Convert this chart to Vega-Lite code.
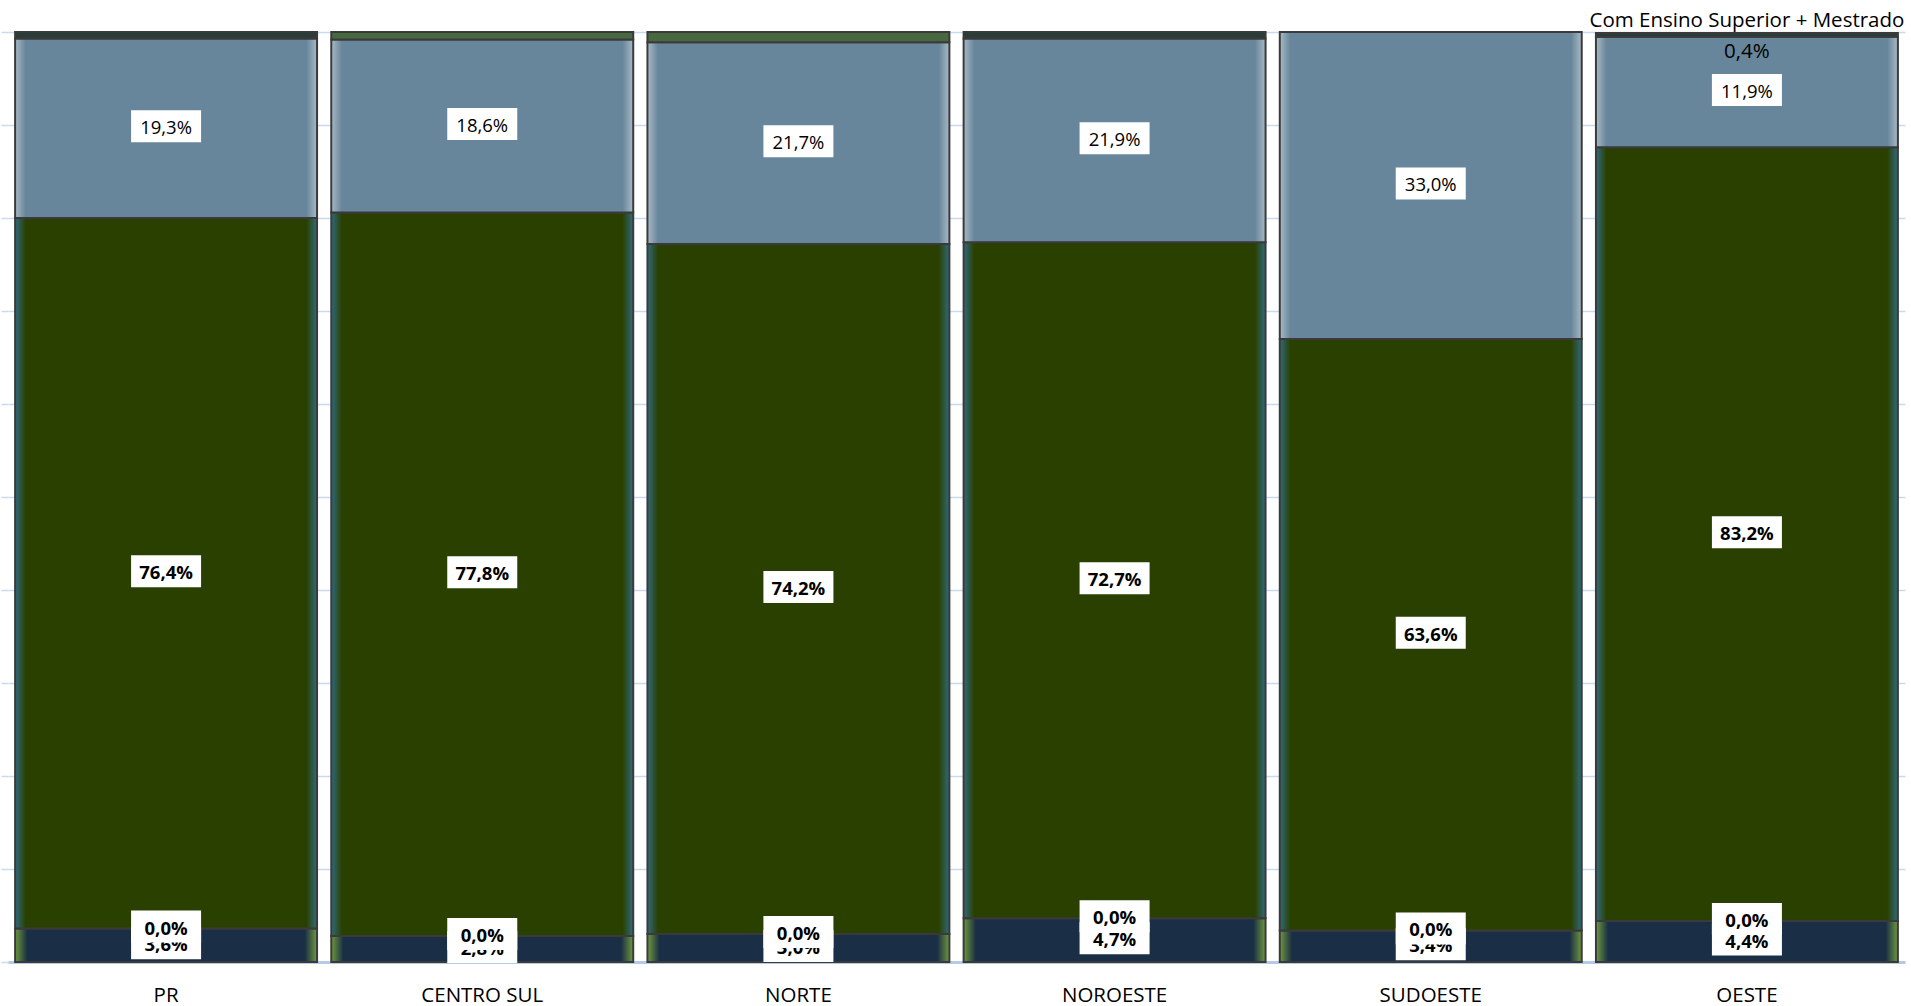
{
  "$schema": "https://vega.github.io/schema/vega-lite/v6.json",
  "autosize": {"type": "none"},
  "width": 1897,
  "height": 930,
  "padding": {"left": 8, "top": 32, "right": 6, "bottom": 44},
  "background": "white",
  "config": {"view": {"stroke": null}, "font": "Open Sans"},
  "data": {"values": [
    {"region": "PR", "serie": "Até Ensino Fundamental", "ord": 1, "value": 3.6, "label": "3,6%"},
    {"region": "PR", "serie": "Sem Instrução", "ord": 2, "value": 0.0, "label": "0,0%"},
    {"region": "PR", "serie": "Ensino Médio", "ord": 3, "value": 76.4, "label": "76,4%"},
    {"region": "PR", "serie": "Com Ensino Superior", "ord": 4, "value": 19.3, "label": "19,3%"},
    {"region": "PR", "serie": "Com Ensino Superior + Mestrado", "ord": 5, "value": 0.7, "label": "0,7%"},
    {"region": "CENTRO SUL", "serie": "Até Ensino Fundamental", "ord": 1, "value": 2.8, "label": "2,8%"},
    {"region": "CENTRO SUL", "serie": "Sem Instrução", "ord": 2, "value": 0.0, "label": "0,0%"},
    {"region": "CENTRO SUL", "serie": "Ensino Médio", "ord": 3, "value": 77.8, "label": "77,8%"},
    {"region": "CENTRO SUL", "serie": "Com Ensino Superior", "ord": 4, "value": 18.6, "label": "18,6%"},
    {"region": "CENTRO SUL", "serie": "Com Ensino Superior + Doutorado", "ord": 6, "value": 0.8, "label": "0,8%"},
    {"region": "NORTE", "serie": "Até Ensino Fundamental", "ord": 1, "value": 3.0, "label": "3,0%"},
    {"region": "NORTE", "serie": "Sem Instrução", "ord": 2, "value": 0.0, "label": "0,0%"},
    {"region": "NORTE", "serie": "Ensino Médio", "ord": 3, "value": 74.2, "label": "74,2%"},
    {"region": "NORTE", "serie": "Com Ensino Superior", "ord": 4, "value": 21.7, "label": "21,7%"},
    {"region": "NORTE", "serie": "Com Ensino Superior + Doutorado", "ord": 6, "value": 1.1, "label": "1,1%"},
    {"region": "NOROESTE", "serie": "Até Ensino Fundamental", "ord": 1, "value": 4.7, "label": "4,7%"},
    {"region": "NOROESTE", "serie": "Sem Instrução", "ord": 2, "value": 0.0, "label": "0,0%"},
    {"region": "NOROESTE", "serie": "Ensino Médio", "ord": 3, "value": 72.7, "label": "72,7%"},
    {"region": "NOROESTE", "serie": "Com Ensino Superior", "ord": 4, "value": 21.9, "label": "21,9%"},
    {"region": "NOROESTE", "serie": "Com Ensino Superior + Mestrado", "ord": 5, "value": 0.7, "label": "0,7%"},
    {"region": "SUDOESTE", "serie": "Até Ensino Fundamental", "ord": 1, "value": 3.4, "label": "3,4%"},
    {"region": "SUDOESTE", "serie": "Sem Instrução", "ord": 2, "value": 0.0, "label": "0,0%"},
    {"region": "SUDOESTE", "serie": "Ensino Médio", "ord": 3, "value": 63.6, "label": "63,6%"},
    {"region": "SUDOESTE", "serie": "Com Ensino Superior", "ord": 4, "value": 33.0, "label": "33,0%"},
    {"region": "SUDOESTE", "serie": "Com Ensino Superior + Mestrado", "ord": 5, "value": 0.0, "label": "0,0%"},
    {"region": "OESTE", "serie": "Até Ensino Fundamental", "ord": 1, "value": 4.4, "label": "4,4%"},
    {"region": "OESTE", "serie": "Sem Instrução", "ord": 2, "value": 0.0, "label": "0,0%"},
    {"region": "OESTE", "serie": "Ensino Médio", "ord": 3, "value": 83.2, "label": "83,2%"},
    {"region": "OESTE", "serie": "Com Ensino Superior", "ord": 4, "value": 11.9, "label": "11,9%"},
    {"region": "OESTE", "serie": "Com Ensino Superior + Mestrado", "ord": 5, "value": 0.4, "label": "Com Ensino Superior + Mestrado\n0,4%"}
  ]},
  "transform": [
    {"stack": "value", "groupby": ["region"], "sort": [{"field": "ord", "order": "ascending"}], "as": ["v0", "v1"]}
  ],
  "encoding": {
    "x": {
      "field": "region", "type": "nominal",
      "sort": ["PR", "CENTRO SUL", "NORTE", "NOROESTE", "SUDOESTE", "OESTE"],
      "scale": {"paddingInner": 0.045, "paddingOuter": 0.0225},
      "axis": {"title": null, "labelAngle": 0, "labelFont": "Open Sans", "labelFontSize": 20.5, "labelColor": "#000000",
               "ticks": false, "tickSize": 0, "labelPadding": 33, "labelBaseline": "middle",
               "domainColor": "#b6cae6", "domainWidth": 3, "grid": false}
    }
  },
  "layer": [
    {
      "transform": [{"filter": "datum.ord == 1"}],
      "mark": {"type": "bar", "stroke": "#3a3a3a", "strokeWidth": 2,
               "fill": {"gradient": "linear", "x1": 0, "x2": 1, "y1": 0, "y2": 0,
                        "stops": [{"offset": 0, "color": "#6f9a3c"}, {"offset": 0.04, "color": "#1a2f45"}, {"offset": 0.96, "color": "#1a2f45"}, {"offset": 1, "color": "#6f9a3c"}]}},
      "encoding": {
        "y": {"field": "v0", "type": "quantitative", "scale": {"domain": [0, 100], "nice": false},
              "axis": {"title": null, "labels": false, "domain": false, "values": [0, 10, 20, 30, 40, 50, 60, 70, 80, 90, 100],
                       "grid": true, "gridColor": "#c9daf0", "gridWidth": 1.5, "ticks": true, "tickSize": 7, "tickColor": "#c9daf0", "tickWidth": 1.5}},
        "y2": {"field": "v1"}
      }
    },
    {
      "transform": [{"filter": "datum.ord == 3"}],
      "mark": {"type": "bar", "stroke": "#3a3a3a", "strokeWidth": 2,
               "fill": {"gradient": "linear", "x1": 0, "x2": 1, "y1": 0, "y2": 0,
                        "stops": [{"offset": 0, "color": "#2f6b80"}, {"offset": 0.035, "color": "#2a4000"}, {"offset": 0.965, "color": "#2a4000"}, {"offset": 1, "color": "#2f6b80"}]}},
      "encoding": {"y": {"field": "v0", "type": "quantitative"}, "y2": {"field": "v1"}}
    },
    {
      "transform": [{"filter": "datum.ord == 4"}],
      "mark": {"type": "bar", "stroke": "#3a3a3a", "strokeWidth": 2,
               "fill": {"gradient": "linear", "x1": 0, "x2": 1, "y1": 0, "y2": 0,
                        "stops": [{"offset": 0, "color": "#a9bac6"}, {"offset": 0.035, "color": "#67869b"}, {"offset": 0.965, "color": "#67869b"}, {"offset": 1, "color": "#a9bac6"}]}},
      "encoding": {"y": {"field": "v0", "type": "quantitative"}, "y2": {"field": "v1"}}
    },
    {
      "transform": [{"filter": "datum.ord == 5 && datum.value > 0"}],
      "mark": {"type": "bar", "stroke": "#3a3a3a", "strokeWidth": 2, "fill": "#2a3c38"},
      "encoding": {"y": {"field": "v0", "type": "quantitative"}, "y2": {"field": "v1"}}
    },
    {
      "transform": [{"filter": "datum.ord == 6"}],
      "mark": {"type": "bar", "stroke": "#3a3a3a", "strokeWidth": 2, "fill": "#48693f"},
      "encoding": {"y": {"field": "v0", "type": "quantitative"}, "y2": {"field": "v1"}}
    },
    {
      "mark": {"type": "point", "shape": "M-1,-0.457L1,-0.457L1,0.457L-1,0.457Z", "size": 4900, "filled": true, "fill": "#ffffff", "strokeWidth": 0, "yOffset": -2},
      "encoding": {
        "y": {"field": "value", "type": "quantitative", "stack": "zero", "bandPosition": 0.5},
        "order": {"field": "ord", "type": "quantitative"},
        "opacity": {"condition": {"test": "datum.ord == 1", "value": 1}, "value": 0}
      }
    },
    {
      "mark": {"type": "text", "font": "Open Sans", "fontSize": 18.5, "fontWeight": "bold", "color": "#000000", "baseline": "middle"},
      "encoding": {
        "y": {"field": "value", "type": "quantitative", "stack": "zero", "bandPosition": 0.5},
        "order": {"field": "ord", "type": "quantitative"},
        "text": {"condition": {"test": "datum.ord == 1", "field": "label"}, "value": ""}
      }
    },
    {
      "mark": {"type": "point", "shape": "M-1,-0.457L1,-0.457L1,0.457L-1,0.457Z", "size": 4900, "filled": true, "fill": "#ffffff", "strokeWidth": 0, "yOffset": -2},
      "encoding": {
        "y": {"field": "value", "type": "quantitative", "stack": "zero", "bandPosition": 0.5},
        "order": {"field": "ord", "type": "quantitative"},
        "opacity": {"condition": {"test": "datum.ord >= 2 && datum.ord <= 4", "value": 1}, "value": 0}
      }
    },
    {
      "mark": {"type": "text", "font": "Open Sans", "fontSize": 18.5, "fontWeight": "bold", "color": "#000000", "baseline": "middle"},
      "encoding": {
        "y": {"field": "value", "type": "quantitative", "stack": "zero", "bandPosition": 0.5},
        "order": {"field": "ord", "type": "quantitative"},
        "text": {"condition": {"test": "datum.ord == 2 || datum.ord == 3", "field": "label"}, "value": ""}
      }
    },
    {
      "mark": {"type": "text", "font": "Open Sans", "fontSize": 18.5, "fontWeight": "normal", "color": "#000000", "baseline": "middle"},
      "encoding": {
        "y": {"field": "value", "type": "quantitative", "stack": "zero", "bandPosition": 0.5},
        "order": {"field": "ord", "type": "quantitative"},
        "text": {"condition": {"test": "datum.ord == 4", "field": "label"}, "value": ""}
      }
    },
    {
      "mark": {"type": "text", "font": "Open Sans", "fontSize": 20.5, "fontWeight": "normal", "color": "#000000", "baseline": "middle", "lineBreak": "\n", "lineHeight": 31, "dy": -14},
      "encoding": {
        "y": {"field": "value", "type": "quantitative", "stack": "zero", "bandPosition": 0.5},
        "order": {"field": "ord", "type": "quantitative"},
        "text": {"condition": {"test": "datum.ord == 5 && datum.region == 'OESTE'", "field": "label"}, "value": ""}
      }
    }
  ]
}
